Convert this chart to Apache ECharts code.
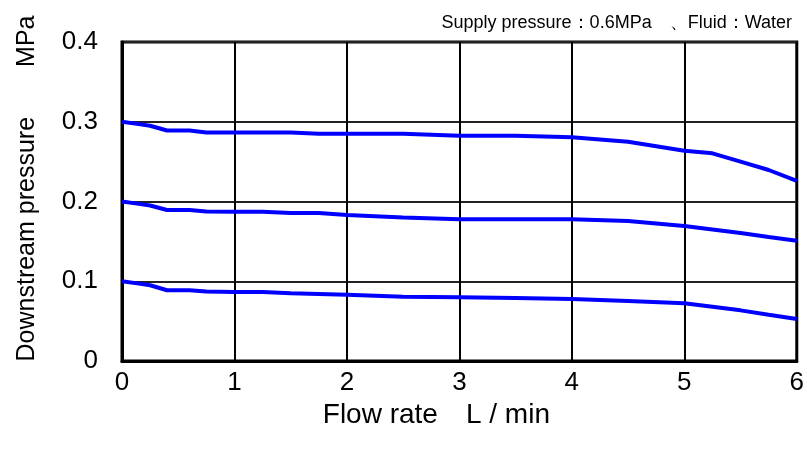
<!DOCTYPE html>
<html>
<head>
<meta charset="utf-8">
<script src="https://cdn.jsdelivr.net/npm/echarts@6/dist/echarts.min.js"></script>
<style>html,body{margin:0;padding:0;background:#fff}#c{width:807px;height:453px}</style>
</head>
<body>
<div id="c"></div>
<script>
var flowRate = [0, 0.15, 0.25, 0.4, 0.6, 0.75, 1.0, 1.25, 1.5, 1.75, 2.0, 2.5, 3.0, 3.5, 4.0, 4.5, 5.0, 5.25, 5.5, 5.75, 6.0];
var setting03 = [0.300, 0.297, 0.295, 0.289, 0.289, 0.2865, 0.2865, 0.2865, 0.2865, 0.285, 0.2848, 0.2848, 0.2826, 0.2826, 0.2805, 0.275, 0.2637, 0.2604, 0.2500, 0.2395, 0.2260];
var setting02 = [0.200, 0.197, 0.195, 0.1893, 0.1893, 0.1875, 0.1872, 0.1872, 0.1855, 0.1855, 0.1830, 0.1800, 0.1777, 0.1777, 0.1777, 0.1755, 0.1693, 0.1650, 0.1605, 0.1555, 0.1508];
var setting01 = [0.100, 0.097, 0.095, 0.0887, 0.0887, 0.0870, 0.0865, 0.0865, 0.0850, 0.0840, 0.0830, 0.0807, 0.0799, 0.0790, 0.0776, 0.0752, 0.0724, 0.0680, 0.0635, 0.0580, 0.0527];
var xTicks = [0, 1, 2, 3, 4, 5, 6];
var yTicks = [0, 0.1, 0.2, 0.3, 0.4];
var subtitle = 'Supply pressure：0.6MPa　、Fluid：Water';
var xName = 'Flow rate　L / min';
var yName = 'Downstream pressure　　MPa';

function pairs(xs, ys) { return xs.map(function (x, i) { return [x, ys[i]]; }); }
var FONT = '"Liberation Sans", Arial, sans-serif';
var chart = echarts.init(document.getElementById('c'));
var lineStyle = { color: '#0000ff', width: 4 };
chart.setOption({
  animation: false,
  title: { text: subtitle, right: 10, top: 9, textStyle: { fontFamily: FONT, fontSize: 18, fontWeight: 'normal', color: '#000' } },
  grid: { left: 122, right: 5, top: 42, bottom: 92, show: true, borderColor: '#000', borderWidth: 3, containLabel: false },
  xAxis: {
    type: 'value', min: xTicks[0], max: xTicks[xTicks.length - 1], interval: 1,
    name: xName, nameLocation: 'middle', nameGap: 37,
    nameTextStyle: { fontFamily: FONT, fontSize: 28, color: '#000', padding: [0, 46, 0, 0] },
    axisLine: { lineStyle: { color: '#000', width: 3 } },
    axisTick: { show: false },
    axisLabel: { fontFamily: FONT, fontSize: 26, color: '#000', margin: 9 },
    splitLine: { show: true, lineStyle: { color: '#000', width: 2 } }
  },
  yAxis: {
    type: 'value', min: yTicks[0], max: yTicks[yTicks.length - 1], interval: 0.1,
    name: yName, nameLocation: 'middle', nameGap: 82,
    nameTextStyle: { fontFamily: FONT, fontSize: 25, color: '#000', padding: [0, 0, 0, 26] },
    axisLine: { show: true, lineStyle: { color: '#000', width: 3 } },
    axisTick: { show: false },
    axisLabel: { fontFamily: FONT, fontSize: 26, color: '#000', margin: 24 },
    splitLine: { show: true, lineStyle: { color: '#222', width: 2 } }
  },
  series: [
    { type: 'line', data: pairs(flowRate, setting03), showSymbol: false, lineStyle: lineStyle },
    { type: 'line', data: pairs(flowRate, setting02), showSymbol: false, lineStyle: lineStyle },
    { type: 'line', data: pairs(flowRate, setting01), showSymbol: false, lineStyle: lineStyle }
  ]
});
</script>
</body>
</html>
